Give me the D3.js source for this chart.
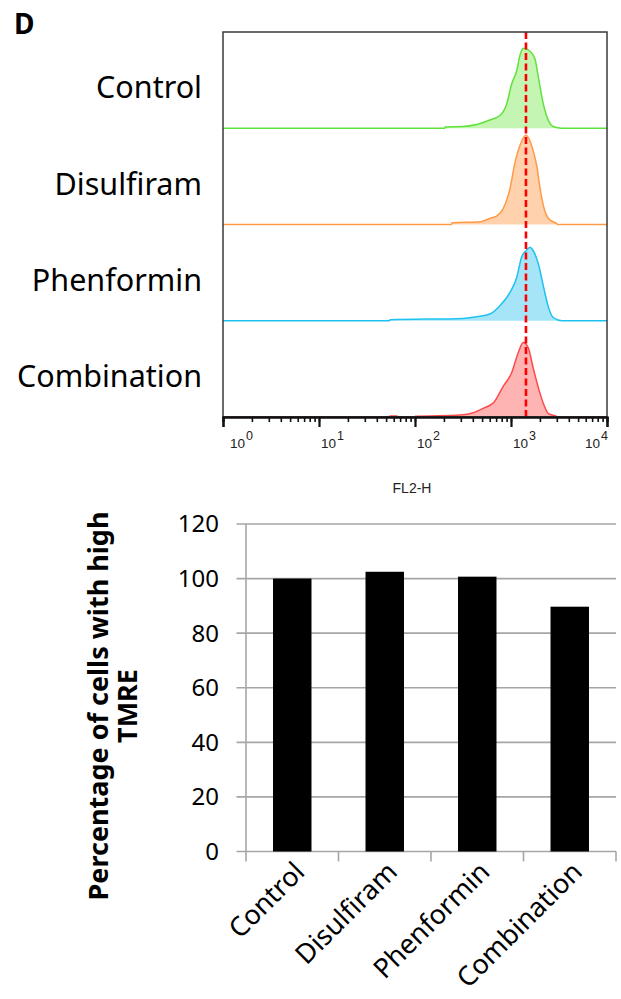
<!DOCTYPE html>
<html>
<head>
<meta charset="utf-8">
<script src="https://cdn.jsdelivr.net/npm/d3@7"></script>
<style>
  html, body { margin: 0; padding: 0; background: #fff; }
  svg { display: block; }
</style>
</head>
<body>
<svg id="fig" width="621" height="999"></svg>
<script>
// ---- Flow cytometry overlay (TMRE, FL2-H channel) ----
const samples = ["Control", "Disulfiram", "Phenformin", "Combination"];

// [FL2-H intensity, relative event count]
const controlHist = [[1,0],[204,0],[206,1.4],[316,1.8],[437,3.9],[603,8.6],[767,13.2],[902,25.3],[1016,46],[1148,60],[1242,76],[1343,83],[1578,80],[1778,72],[1928,53],[2173,25],[2455,8],[2754,1.8],[3373,0],[10000,0]];
const disulfiramHist = [[1,0],[240,0],[243,1.8],[479,2.8],[603,6.3],[708,8.6],[832,16.7],[977,37.5],[1096,63.5],[1242,82.3],[1432,92.7],[1698,77],[1862,60],[1995,39.3],[2188,18.4],[2455,6.3],[2992,1],[3090,0],[10000,0]];
const phenforminHist = [[1,0],[54,0],[55,1],[316,2.4],[437,4.2],[603,7],[767,15.6],[977,29.5],[1148,45],[1288,66],[1445,73],[1578,76.4],[1698,73],[1928,59],[2188,34.7],[2455,13.9],[2754,3.4],[3388,0],[10000,0]];
const combinationHist = [[1,0],[54,0],[55,1],[65,1],[66,0],[100,0],[101,0.7],[295,2.1],[407,4.5],[513,9],[661,15],[832,32],[1016,46],[1191,67],[1343,77.4],[1514,72],[1698,51.4],[1928,30.5],[2188,13.2],[2455,3.4],[2992,0.7],[3090,0],[10000,0]];
const histograms = [controlHist, disulfiramHist, phenforminHist, combinationHist];

const lineColors = ["#5fe23c", "#ff9a45", "#1ec2f0", "#ff4a4a"];
const fillColors = ["#c4f5b2", "#ffd2ad", "#a6e5f8", "#ffb4b4"];

const referenceIntensity = 1432;   // dashed marker
const decadeTicks = [1, 10, 100, 1000, 10000];
const axisTitle = "FL2-H";

// ---- Bar chart: % cells with high TMRE ----
const barCategories = ["Control", "Disulfiram", "Phenformin", "Combination"];
const barValues = [100, 102.5, 100.7, 89.7];
const yTickValues = [0, 20, 40, 60, 80, 100, 120];

const svg = d3.select("#fig");
const sans = "'Noto Sans', 'Open Sans', sans-serif";
const arial = "'Liberation Sans', Arial, sans-serif";

// Panel letter
svg.append("text").attr("x", 14).attr("y", 34)
  .attr("font-family", sans).attr("font-weight", "bold").attr("font-size", 28)
  .text("D");

// ===== Histogram overlay =====
const hx = d3.scaleLog().domain([1, 10000]).range([223, 607]);
const rows = d3.scaleBand().domain(samples).range([32, 417]).padding(0);

const hist = svg.append("g");

samples.forEach((name, i) => {
  const base = rows(name) + rows.bandwidth();
  const hy = d3.scaleLinear().domain([0, 100]).range([base, base - rows.bandwidth()]);
  const area = d3.area()
    .x(d => hx(d[0])).y0(base).y1(d => hy(d[1]))
    .curve(d3.curveMonotoneX);
  const line = d3.line()
    .x(d => hx(d[0])).y(d => hy(d[1]))
    .curve(d3.curveMonotoneX);
  hist.append("path").datum(histograms[i])
    .attr("d", area).attr("fill", fillColors[i]);
  hist.append("path").datum(histograms[i])
    .attr("d", line).attr("fill", "none")
    .attr("stroke", lineColors[i]).attr("stroke-width", 1.5);

  svg.append("text")
    .attr("x", 202).attr("y", base - 30)
    .attr("text-anchor", "end")
    .attr("font-family", sans).attr("font-size", 30.5)
    .text(name);
});

// Reference marker
hist.append("line")
  .attr("x1", hx(referenceIntensity)).attr("x2", hx(referenceIntensity))
  .attr("y1", 32).attr("y2", 417)
  .attr("stroke", "#ff0000").attr("stroke-width", 2.6)
  .attr("stroke-dasharray", "7,3.5");

// Frame
hist.append("rect")
  .attr("x", 223).attr("y", 32).attr("width", 607 - 223).attr("height", 417 - 32)
  .attr("fill", "none").attr("stroke", "#3a3a3a").attr("stroke-width", 1.5);

// Log axis: minor and major ticks
const minorAxis = d3.axisBottom(hx).tickValues(hx.ticks()).tickSize(5).tickFormat("");
const majorAxis = d3.axisBottom(hx).tickValues(decadeTicks).tickSize(10).tickFormat("");
[minorAxis, majorAxis].forEach((ax, k) => {
  const g = svg.append("g").attr("transform", "translate(0,417)").call(ax);
  g.select(".domain").attr("stroke", "#111").attr("stroke-width", 2);
  g.selectAll(".tick line").attr("stroke", "#111").attr("stroke-width", k ? 2.2 : 1.6);
});

// Decade labels 10^n
decadeTicks.forEach((v, i) => {
  const last = i === decadeTicks.length - 1;
  const x = hx(v) + (i === 0 ? 7 : last ? 1 : 2);
  const t = svg.append("text")
    .attr("x", x).attr("y", 448)
    .attr("text-anchor", last ? "end" : "start")
    .attr("font-family", arial).attr("font-size", 13.5).attr("fill", "#222");
  t.append("tspan").text("10");
  t.append("tspan").attr("dy", -8).attr("dx", 1).attr("font-size", 12.5).text(String(Math.round(Math.log10(v))));
});

svg.append("text")
  .attr("x", 412).attr("y", 493)
  .attr("text-anchor", "middle")
  .attr("font-family", arial).attr("font-size", 14).attr("fill", "#222")
  .text(axisTitle);

// ===== Bar chart =====
const bx = d3.scaleBand().domain(barCategories).range([246, 616])
  .paddingInner(0.584).paddingOuter(0.292);
const by = d3.scaleLinear().domain([0, 120]).range([851.5, 524]);

const bars = svg.append("g");
const gridColor = "#a6a6a6";

// Horizontal gridlines (with short outward ticks)
bars.selectAll("line.grid").data(yTickValues).join("line")
  .attr("class", "grid")
  .attr("x1", 236.5).attr("x2", 616)
  .attr("y1", d => by(d)).attr("y2", d => by(d))
  .attr("stroke", gridColor).attr("stroke-width", 1.6);

// Vertical axis line
bars.append("line")
  .attr("x1", 246).attr("x2", 246).attr("y1", by(120)).attr("y2", by(0))
  .attr("stroke", gridColor).attr("stroke-width", 1.6);

// Category boundary ticks
const edges = barCategories.map(c => bx(c) - bx.step() * bx.paddingInner() / 2)
  .concat([bx(barCategories[barCategories.length - 1]) + bx.bandwidth() + bx.step() * bx.paddingInner() / 2]);
bars.selectAll("line.edge").data(edges).join("line")
  .attr("class", "edge")
  .attr("x1", d => d).attr("x2", d => d)
  .attr("y1", by(0)).attr("y2", by(0) + 10)
  .attr("stroke", gridColor).attr("stroke-width", 1.6);

// Bars
bars.selectAll("rect.bar").data(barValues).join("rect")
  .attr("class", "bar")
  .attr("x", (d, i) => bx(barCategories[i]))
  .attr("width", bx.bandwidth())
  .attr("y", d => by(d))
  .attr("height", d => by(0) - by(d))
  .attr("fill", "#000");

// Y tick labels
bars.selectAll("text.ytick").data(yTickValues).join("text")
  .attr("class", "ytick")
  .attr("x", 219).attr("y", d => by(d))
  .attr("dy", "0.35em")
  .attr("text-anchor", "end")
  .attr("font-family", sans).attr("font-size", 24)
  .text(d => d);

// Rotated category labels
bars.selectAll("text.xtick").data(barCategories).join("text")
  .attr("class", "xtick")
  .attr("transform", c => `translate(${bx(c) + bx.bandwidth() / 2 + 14},${by(0) + 22}) rotate(-45)`)
  .attr("text-anchor", "end")
  .attr("font-family", sans).attr("font-size", 27)
  .text(c => c);

// Y axis title (two lines)
const yTitle = svg.append("text")
  .attr("font-family", sans).attr("font-weight", "bold").attr("font-size", 27)
  .attr("text-anchor", "middle");
yTitle.append("tspan").attr("x", 0).attr("y", 0).text("Percentage of cells with high");
yTitle.append("tspan").attr("x", 0).attr("y", 29).text("TMRE");
yTitle.attr("transform", "translate(108,706) rotate(-90)");
</script>
</body>
</html>
